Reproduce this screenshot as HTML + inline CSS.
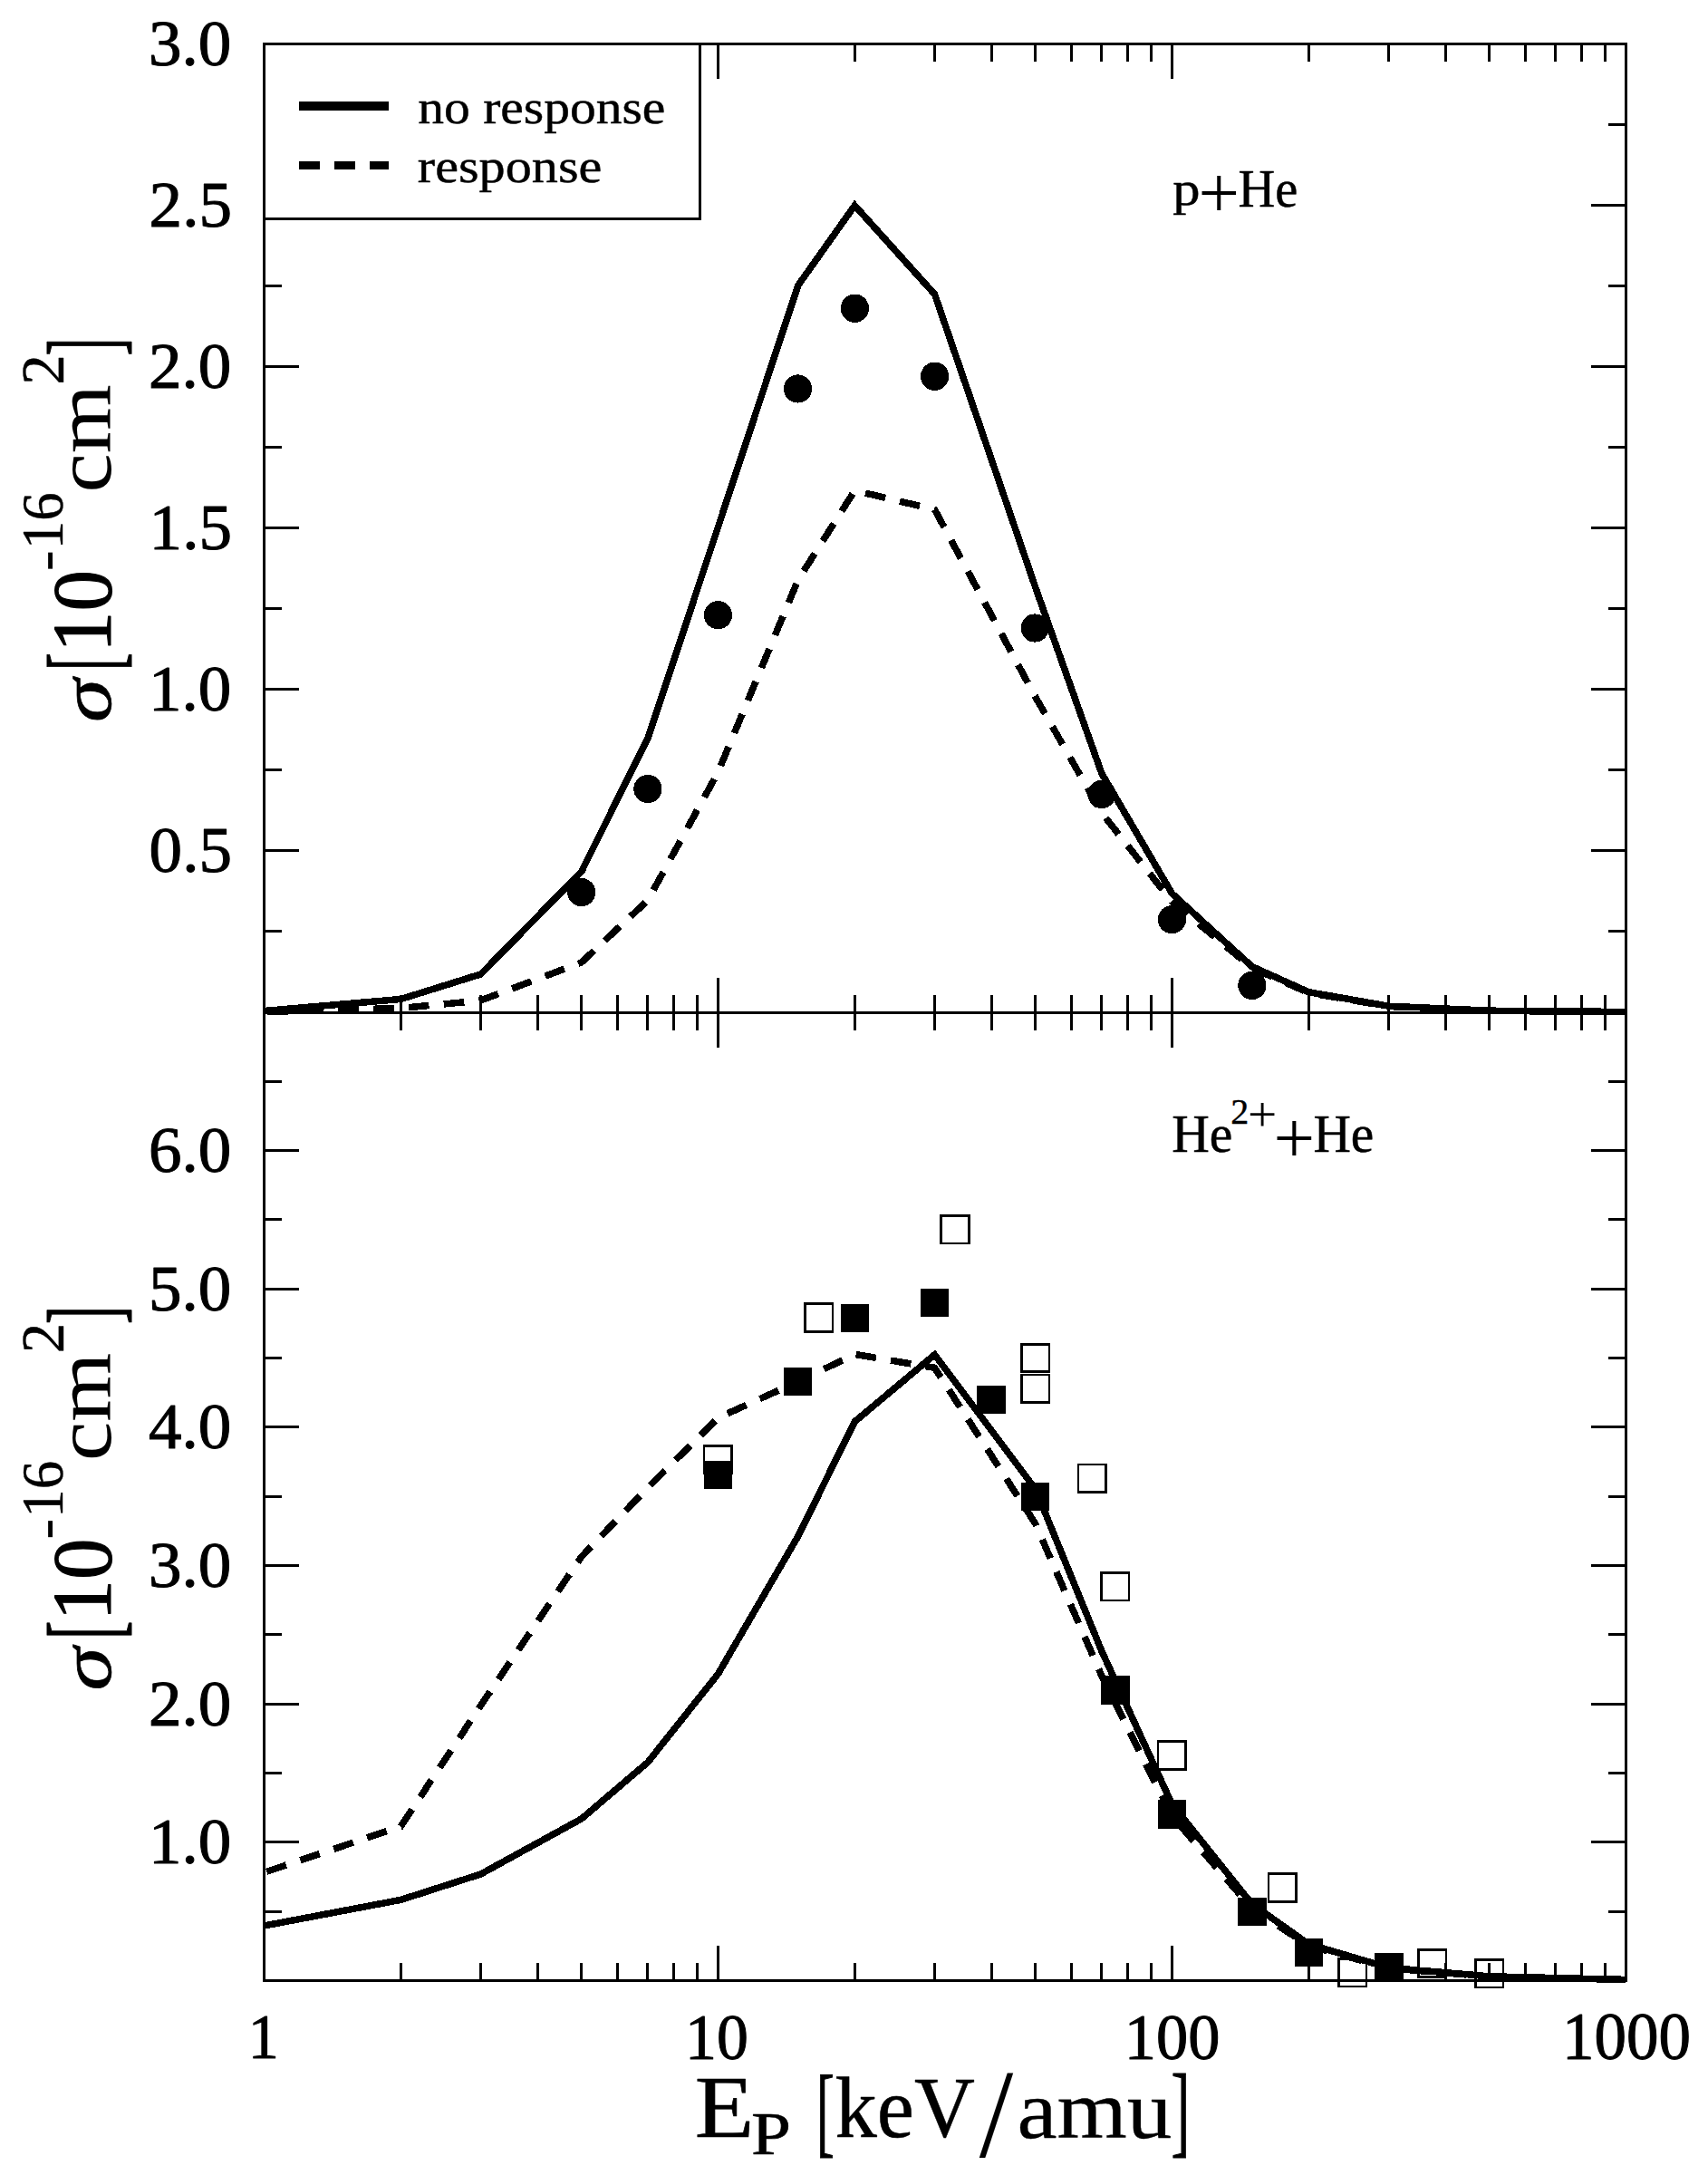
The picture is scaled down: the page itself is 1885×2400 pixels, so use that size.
<!DOCTYPE html>
<html lang="en"><head><meta charset="utf-8"><title>Cross sections</title>
<style>html,body{margin:0;padding:0;background:#fff}body{width:1885px;height:2400px;overflow:hidden}</style></head>
<body>
<svg width="1885" height="2400" viewBox="0 0 1885 2400" style="display:block">
<rect x="0" y="0" width="1885" height="2400" fill="#fff"/>
<g id="curves" shape-rendering="crispEdges">
<polyline points="291.5,1115.5 442.316,1102.5 530.538,1075 641.684,961.8 714.894,814.8 792.5,581.5 880.722,315 943.316,226.7 1031.538,324.7 1142.684,648 1215.894,853.5 1293.5,986 1381.722,1066.5 1444.316,1094.7 1532.538,1110.2 1643.684,1115.2 1794.5,1116.5" fill="none" stroke="#000" stroke-width="7.5" stroke-linejoin="miter" stroke-miterlimit="10"/>
<polyline points="291.5,1116.5 442.316,1112.5 530.538,1104 641.684,1062 714.894,993.5 792.5,852 880.722,640 943.316,541.3 1031.538,562.3 1142.684,769 1215.894,897 1293.5,995 1381.722,1068 1444.316,1095.5 1532.538,1110.5 1643.684,1115.5 1794.5,1116.5" fill="none" stroke="#000" stroke-width="7.5" stroke-linejoin="miter" stroke-miterlimit="10" stroke-dasharray="22.7 16.3" stroke-dashoffset="-3.5"/>
<polyline points="291.5,2125 442.316,2096.4 530.538,2068 641.684,2007 714.894,1944.6 792.5,1847 880.722,1695.2 943.316,1568.7 1031.538,1494.8 1142.684,1643 1215.894,1822 1293.5,1991 1381.722,2101 1444.316,2145.2 1532.538,2171.3 1643.684,2180.8 1794.5,2184.4" fill="none" stroke="#000" stroke-width="7.5" stroke-linejoin="miter" stroke-miterlimit="10"/>
<polyline points="291.5,2066.2 442.316,2015.4 530.538,1882 641.684,1717.8 714.894,1641.6 792.5,1564.5 880.722,1524.5 943.316,1494.4 1031.538,1509.3 1142.684,1681.3 1215.894,1849.3 1293.5,2004 1381.722,2105.9 1444.316,2147 1532.538,2171.8 1643.684,2181 1794.5,2184.5" fill="none" stroke="#000" stroke-width="7.5" stroke-linejoin="miter" stroke-miterlimit="10" stroke-dasharray="22.7 16.3" stroke-dashoffset="-3"/>
</g>
<g id="markers" shape-rendering="crispEdges">
<rect x="777.05" y="1595.35" width="30.5" height="30.5" fill="none" stroke="#000" stroke-width="2.6"/>
<rect x="888.65" y="1438.75" width="30.5" height="30.5" fill="none" stroke="#000" stroke-width="2.6"/>
<rect x="1038.75" y="1341.65" width="30.5" height="30.5" fill="none" stroke="#000" stroke-width="2.6"/>
<rect x="1127.35" y="1483.25" width="30.5" height="30.5" fill="none" stroke="#000" stroke-width="2.6"/>
<rect x="1127.35" y="1517.15" width="30.5" height="30.5" fill="none" stroke="#000" stroke-width="2.6"/>
<rect x="1190.05" y="1616.15" width="30.5" height="30.5" fill="none" stroke="#000" stroke-width="2.6"/>
<rect x="1215.65" y="1735.35" width="30.5" height="30.5" fill="none" stroke="#000" stroke-width="2.6"/>
<rect x="1278.15" y="1921.75" width="30.5" height="30.5" fill="none" stroke="#000" stroke-width="2.6"/>
<rect x="1400.15" y="2067.75" width="30.5" height="30.5" fill="none" stroke="#000" stroke-width="2.6"/>
<rect x="1477.65" y="2161.35" width="30.5" height="30.5" fill="none" stroke="#000" stroke-width="2.6"/>
<rect x="1565.65" y="2151.25" width="30.5" height="30.5" fill="none" stroke="#000" stroke-width="2.6"/>
<rect x="1628.55" y="2162.45" width="30.5" height="30.5" fill="none" stroke="#000" stroke-width="2.6"/>
<rect x="776.6" y="1611.5" width="31.4" height="31.4" fill="#000"/>
<rect x="864.9" y="1508.9" width="31.4" height="31.4" fill="#000"/>
<rect x="927.7" y="1438.6" width="31.4" height="31.4" fill="#000"/>
<rect x="1015.6" y="1421.8" width="31.4" height="31.4" fill="#000"/>
<rect x="1078.2" y="1528.7" width="31.4" height="31.4" fill="#000"/>
<rect x="1127" y="1635.6" width="31.4" height="31.4" fill="#000"/>
<rect x="1215.2" y="1849.2" width="31.4" height="31.4" fill="#000"/>
<rect x="1277.7" y="1986.2" width="31.4" height="31.4" fill="#000"/>
<rect x="1366.1" y="2093.5" width="31.4" height="31.4" fill="#000"/>
<rect x="1428.5" y="2138.9" width="31.4" height="31.4" fill="#000"/>
<rect x="1517.2" y="2154.5" width="31.4" height="31.4" fill="#000"/>
</g><g id="circles" shape-rendering="crispEdges">
<circle cx="641.7" cy="984.6" r="15.6" fill="#000"/>
<circle cx="714.9" cy="870.5" r="15.6" fill="#000"/>
<circle cx="792.5" cy="678.7" r="15.6" fill="#000"/>
<circle cx="880.5" cy="429" r="15.6" fill="#000"/>
<circle cx="943.4" cy="340.2" r="15.6" fill="#000"/>
<circle cx="1031.6" cy="415.2" r="15.6" fill="#000"/>
<circle cx="1142.2" cy="693" r="15.6" fill="#000"/>
<circle cx="1215.9" cy="876.4" r="15.6" fill="#000"/>
<circle cx="1293.4" cy="1014.6" r="15.6" fill="#000"/>
<circle cx="1381.9" cy="1087.4" r="15.6" fill="#000"/>
</g>
<g id="axes" shape-rendering="crispEdges"><rect x="291.5" y="48.5" width="1503.0" height="2137.0" fill="none" stroke="#000" stroke-width="3"/><line x1="291.5" y1="1117.0" x2="1794.5" y2="1117.0" stroke="#000" stroke-width="3"/><g stroke="#000" stroke-width="3"><line x1="442.316" y1="48.5" x2="442.316" y2="68"/><line x1="442.316" y1="1097.5" x2="442.316" y2="1136.5"/><line x1="442.316" y1="2166" x2="442.316" y2="2185.5"/><line x1="530.538" y1="48.5" x2="530.538" y2="68"/><line x1="530.538" y1="1097.5" x2="530.538" y2="1136.5"/><line x1="530.538" y1="2166" x2="530.538" y2="2185.5"/><line x1="593.132" y1="48.5" x2="593.132" y2="68"/><line x1="593.132" y1="1097.5" x2="593.132" y2="1136.5"/><line x1="593.132" y1="2166" x2="593.132" y2="2185.5"/><line x1="641.684" y1="48.5" x2="641.684" y2="68"/><line x1="641.684" y1="1097.5" x2="641.684" y2="1136.5"/><line x1="641.684" y1="2166" x2="641.684" y2="2185.5"/><line x1="681.354" y1="48.5" x2="681.354" y2="68"/><line x1="681.354" y1="1097.5" x2="681.354" y2="1136.5"/><line x1="681.354" y1="2166" x2="681.354" y2="2185.5"/><line x1="714.894" y1="48.5" x2="714.894" y2="68"/><line x1="714.894" y1="1097.5" x2="714.894" y2="1136.5"/><line x1="714.894" y1="2166" x2="714.894" y2="2185.5"/><line x1="743.948" y1="48.5" x2="743.948" y2="68"/><line x1="743.948" y1="1097.5" x2="743.948" y2="1136.5"/><line x1="743.948" y1="2166" x2="743.948" y2="2185.5"/><line x1="769.575" y1="48.5" x2="769.575" y2="68"/><line x1="769.575" y1="1097.5" x2="769.575" y2="1136.5"/><line x1="769.575" y1="2166" x2="769.575" y2="2185.5"/><line x1="792.5" y1="48.5" x2="792.5" y2="87"/><line x1="792.5" y1="1078.5" x2="792.5" y2="1155.5"/><line x1="792.5" y1="2147" x2="792.5" y2="2185.5"/><line x1="943.316" y1="48.5" x2="943.316" y2="68"/><line x1="943.316" y1="1097.5" x2="943.316" y2="1136.5"/><line x1="943.316" y1="2166" x2="943.316" y2="2185.5"/><line x1="1031.538" y1="48.5" x2="1031.538" y2="68"/><line x1="1031.538" y1="1097.5" x2="1031.538" y2="1136.5"/><line x1="1031.538" y1="2166" x2="1031.538" y2="2185.5"/><line x1="1094.132" y1="48.5" x2="1094.132" y2="68"/><line x1="1094.132" y1="1097.5" x2="1094.132" y2="1136.5"/><line x1="1094.132" y1="2166" x2="1094.132" y2="2185.5"/><line x1="1142.684" y1="48.5" x2="1142.684" y2="68"/><line x1="1142.684" y1="1097.5" x2="1142.684" y2="1136.5"/><line x1="1142.684" y1="2166" x2="1142.684" y2="2185.5"/><line x1="1182.354" y1="48.5" x2="1182.354" y2="68"/><line x1="1182.354" y1="1097.5" x2="1182.354" y2="1136.5"/><line x1="1182.354" y1="2166" x2="1182.354" y2="2185.5"/><line x1="1215.894" y1="48.5" x2="1215.894" y2="68"/><line x1="1215.894" y1="1097.5" x2="1215.894" y2="1136.5"/><line x1="1215.894" y1="2166" x2="1215.894" y2="2185.5"/><line x1="1244.948" y1="48.5" x2="1244.948" y2="68"/><line x1="1244.948" y1="1097.5" x2="1244.948" y2="1136.5"/><line x1="1244.948" y1="2166" x2="1244.948" y2="2185.5"/><line x1="1270.575" y1="48.5" x2="1270.575" y2="68"/><line x1="1270.575" y1="1097.5" x2="1270.575" y2="1136.5"/><line x1="1270.575" y1="2166" x2="1270.575" y2="2185.5"/><line x1="1293.5" y1="48.5" x2="1293.5" y2="87"/><line x1="1293.5" y1="1078.5" x2="1293.5" y2="1155.5"/><line x1="1293.5" y1="2147" x2="1293.5" y2="2185.5"/><line x1="1444.316" y1="48.5" x2="1444.316" y2="68"/><line x1="1444.316" y1="1097.5" x2="1444.316" y2="1136.5"/><line x1="1444.316" y1="2166" x2="1444.316" y2="2185.5"/><line x1="1532.538" y1="48.5" x2="1532.538" y2="68"/><line x1="1532.538" y1="1097.5" x2="1532.538" y2="1136.5"/><line x1="1532.538" y1="2166" x2="1532.538" y2="2185.5"/><line x1="1595.132" y1="48.5" x2="1595.132" y2="68"/><line x1="1595.132" y1="1097.5" x2="1595.132" y2="1136.5"/><line x1="1595.132" y1="2166" x2="1595.132" y2="2185.5"/><line x1="1643.684" y1="48.5" x2="1643.684" y2="68"/><line x1="1643.684" y1="1097.5" x2="1643.684" y2="1136.5"/><line x1="1643.684" y1="2166" x2="1643.684" y2="2185.5"/><line x1="1683.354" y1="48.5" x2="1683.354" y2="68"/><line x1="1683.354" y1="1097.5" x2="1683.354" y2="1136.5"/><line x1="1683.354" y1="2166" x2="1683.354" y2="2185.5"/><line x1="1716.894" y1="48.5" x2="1716.894" y2="68"/><line x1="1716.894" y1="1097.5" x2="1716.894" y2="1136.5"/><line x1="1716.894" y1="2166" x2="1716.894" y2="2185.5"/><line x1="1745.948" y1="48.5" x2="1745.948" y2="68"/><line x1="1745.948" y1="1097.5" x2="1745.948" y2="1136.5"/><line x1="1745.948" y1="2166" x2="1745.948" y2="2185.5"/><line x1="1771.575" y1="48.5" x2="1771.575" y2="68"/><line x1="1771.575" y1="1097.5" x2="1771.575" y2="1136.5"/><line x1="1771.575" y1="2166" x2="1771.575" y2="2185.5"/><line x1="291.5" y1="1027.958" x2="311" y2="1027.958"/><line x1="1775" y1="1027.958" x2="1794.5" y2="1027.958"/><line x1="291.5" y1="938.917" x2="330" y2="938.917"/><line x1="1756" y1="938.917" x2="1794.5" y2="938.917"/><line x1="291.5" y1="849.875" x2="311" y2="849.875"/><line x1="1775" y1="849.875" x2="1794.5" y2="849.875"/><line x1="291.5" y1="760.833" x2="330" y2="760.833"/><line x1="1756" y1="760.833" x2="1794.5" y2="760.833"/><line x1="291.5" y1="671.792" x2="311" y2="671.792"/><line x1="1775" y1="671.792" x2="1794.5" y2="671.792"/><line x1="291.5" y1="582.75" x2="330" y2="582.75"/><line x1="1756" y1="582.75" x2="1794.5" y2="582.75"/><line x1="291.5" y1="493.708" x2="311" y2="493.708"/><line x1="1775" y1="493.708" x2="1794.5" y2="493.708"/><line x1="291.5" y1="404.667" x2="330" y2="404.667"/><line x1="1756" y1="404.667" x2="1794.5" y2="404.667"/><line x1="291.5" y1="315.625" x2="311" y2="315.625"/><line x1="1775" y1="315.625" x2="1794.5" y2="315.625"/><line x1="291.5" y1="226.583" x2="330" y2="226.583"/><line x1="1756" y1="226.583" x2="1794.5" y2="226.583"/><line x1="291.5" y1="137.542" x2="311" y2="137.542"/><line x1="1775" y1="137.542" x2="1794.5" y2="137.542"/><line x1="291.5" y1="2109.179" x2="311" y2="2109.179"/><line x1="1775" y1="2109.179" x2="1794.5" y2="2109.179"/><line x1="291.5" y1="2032.857" x2="330" y2="2032.857"/><line x1="1756" y1="2032.857" x2="1794.5" y2="2032.857"/><line x1="291.5" y1="1956.536" x2="311" y2="1956.536"/><line x1="1775" y1="1956.536" x2="1794.5" y2="1956.536"/><line x1="291.5" y1="1880.214" x2="330" y2="1880.214"/><line x1="1756" y1="1880.214" x2="1794.5" y2="1880.214"/><line x1="291.5" y1="1803.893" x2="311" y2="1803.893"/><line x1="1775" y1="1803.893" x2="1794.5" y2="1803.893"/><line x1="291.5" y1="1727.571" x2="330" y2="1727.571"/><line x1="1756" y1="1727.571" x2="1794.5" y2="1727.571"/><line x1="291.5" y1="1651.25" x2="311" y2="1651.25"/><line x1="1775" y1="1651.25" x2="1794.5" y2="1651.25"/><line x1="291.5" y1="1574.929" x2="330" y2="1574.929"/><line x1="1756" y1="1574.929" x2="1794.5" y2="1574.929"/><line x1="291.5" y1="1498.607" x2="311" y2="1498.607"/><line x1="1775" y1="1498.607" x2="1794.5" y2="1498.607"/><line x1="291.5" y1="1422.286" x2="330" y2="1422.286"/><line x1="1756" y1="1422.286" x2="1794.5" y2="1422.286"/><line x1="291.5" y1="1345.964" x2="311" y2="1345.964"/><line x1="1775" y1="1345.964" x2="1794.5" y2="1345.964"/><line x1="291.5" y1="1269.643" x2="330" y2="1269.643"/><line x1="1756" y1="1269.643" x2="1794.5" y2="1269.643"/><line x1="291.5" y1="1193.321" x2="311" y2="1193.321"/><line x1="1775" y1="1193.321" x2="1794.5" y2="1193.321"/></g><rect x="291.5" y="48.5" width="481.29999999999995" height="193.1" fill="#fff" stroke="#000" stroke-width="3"/><line x1="330" y1="117" x2="429" y2="117" stroke="#000" stroke-width="10"/><line x1="330" y1="182.5" x2="429" y2="182.5" stroke="#000" stroke-width="9" stroke-dasharray="22.7 16.3"/></g>
<g id="text" font-family="'Liberation Serif', 'DejaVu Serif', serif" fill="#000" stroke="#000" stroke-linejoin="round">
<g id="xticks">
<text transform="matrix(0.973 0 0 1.006 273.848 2270.797)" font-size="70" stroke-width="1.0">1</text>
<text transform="matrix(0.997 0 0 1.042 756.118 2271.958)" font-size="70" stroke-width="1.0">10</text>
<text transform="matrix(1.005 0 0 1.042 1240.872 2271.958)" font-size="70" stroke-width="1.0">100</text>
<text transform="matrix(1.014 0 0 1.042 1724.025 2271.958)" font-size="70" stroke-width="1.0">1000</text>
</g>
<g id="legend">
<text transform="matrix(1.009 0 0 0.942 461.291 136.128)" font-size="57" stroke-width="0.5">no response</text>
<text transform="matrix(1.021 0 0 0.944 460.779 201.196)" font-size="57" stroke-width="0.5">response</text>
</g>
<g id="label-top">
<text transform="matrix(1.062 0 0 0.911 1294.269 226.408)" font-size="57" stroke-width="0.5">p</text>
<text transform="matrix(1.223 0 0 1.21 1322.42 239.564)" font-size="66" stroke-width="0">+</text>
<text transform="matrix(0.99 0 0 1.032 1366.514 227.684)" font-size="57" stroke-width="0.5">He</text>
</g>
<g id="label-bottom">
<text transform="matrix(1.01 0 0 1.026 1293.286 1270.687)" font-size="57" stroke-width="0.5">He</text>
<text transform="matrix(1 0 0 1.015 1358.3 1239.7)" font-size="40" stroke-width="0.4">2</text>
<text transform="matrix(1.243 0 0 1.209 1376.893 1248.342)" font-size="46" stroke-width="0">+</text>
<text transform="matrix(1.226 0 0 1.21 1405.408 1282.764)" font-size="66" stroke-width="0">+</text>
<text transform="matrix(1.006 0 0 1.026 1449.39 1270.687)" font-size="57" stroke-width="0.5">He</text>
</g>
<g id="xtitle">
<text transform="matrix(1.141 0 0 1.034 766.849 2357.8)" font-size="94" stroke-width="0.6">E</text>
<text transform="matrix(1.162 0 0 1 829.057 2376.8)" font-size="68" stroke-width="0.6">P</text>
<text transform="matrix(0.553 0 0 1.007 900.753 2365.602)" font-size="110" stroke-width="1.0">[</text>
<text transform="matrix(0.986 0 0 1.003 921.521 2358.496)" font-size="94" stroke-width="0.5">keV</text>
<text transform="matrix(1.226 0 0 1.269 1080.8 2379.831)" font-size="110" stroke-width="0">/</text>
<text transform="matrix(1.057 0 0 0.963 1122.429 2358.837)" font-size="94" stroke-width="0.3">amu</text>
<text transform="matrix(0.569 0 0 1.014 1292.61 2365.888)" font-size="110" stroke-width="1.0">]</text>
</g>
<g id="ytitle-top">
<text transform="rotate(-90) matrix(1.054 0 0 0.863 -797.036 122.237)" font-size="92" font-style="italic" stroke-width="0.8">σ</text>
<text transform="rotate(-90) matrix(0.553 0 0 1.011 -740.147 129.837)" font-size="110" stroke-width="1.0">[</text>
<text transform="rotate(-90) matrix(0.981 0 0 1.011 -720.055 122.284)" font-size="93" stroke-width="1.0">10</text>
<text transform="rotate(-90) matrix(1.053 0 0 1 -630.332 71)" font-size="66" stroke-width="0">-</text>
<text transform="rotate(-90) matrix(0.967 0 0 1.011 -606.22 69.189)" font-size="65" stroke-width="0.4">16</text>
<text transform="rotate(-90) matrix(1.027 0 0 0.945 -543.495 121.855)" font-size="95" stroke-width="0">cm</text>
<text transform="rotate(-90) matrix(1.03 0 0 1.035 -424.675 70.2)" font-size="65" stroke-width="0.4">2</text>
<text transform="rotate(-90) matrix(0.549 0 0 1.011 -392.822 129.837)" font-size="110" stroke-width="1.0">]</text>
</g>
<g id="ytitle-bottom">
<text transform="rotate(-90) matrix(1.054 0 0 0.863 -1865.536 122.237)" font-size="92" font-style="italic" stroke-width="0.8">σ</text>
<text transform="rotate(-90) matrix(0.553 0 0 1.011 -1808.647 129.837)" font-size="110" stroke-width="1.0">[</text>
<text transform="rotate(-90) matrix(0.981 0 0 1.011 -1788.555 122.284)" font-size="93" stroke-width="1.0">10</text>
<text transform="rotate(-90) matrix(1.053 0 0 1 -1698.832 71)" font-size="66" stroke-width="0">-</text>
<text transform="rotate(-90) matrix(0.967 0 0 1.011 -1674.72 69.189)" font-size="65" stroke-width="0.4">16</text>
<text transform="rotate(-90) matrix(1.027 0 0 0.945 -1611.995 121.855)" font-size="95" stroke-width="0">cm</text>
<text transform="rotate(-90) matrix(1.03 0 0 1.035 -1493.175 70.2)" font-size="65" stroke-width="0.4">2</text>
<text transform="rotate(-90) matrix(0.549 0 0 1.011 -1461.322 129.837)" font-size="110" stroke-width="1.0">]</text>
</g>
<g id="yticks">
<text transform="matrix(1.044 0 0 1.033 164.069 72.001)" font-size="70" stroke-width="1">3.0</text>
<text transform="matrix(1.044 0 0 1.033 164.591 250.084)" font-size="70" stroke-width="1">2.5</text>
<text transform="matrix(1.044 0 0 1.033 164.069 428.167)" font-size="70" stroke-width="1">2.0</text>
<text transform="matrix(1.044 0 0 1.033 164.591 605.734)" font-size="70" stroke-width="1">1.5</text>
<text transform="matrix(1.044 0 0 1.033 164.069 784.334)" font-size="70" stroke-width="1">1.0</text>
<text transform="matrix(1.044 0 0 1.033 164.591 962.417)" font-size="70" stroke-width="1">0.5</text>
<text transform="matrix(1.044 0 0 1.033 164.069 1293.143)" font-size="70" stroke-width="1">6.0</text>
<text transform="matrix(1.044 0 0 1.033 164.069 1445.786)" font-size="70" stroke-width="1">5.0</text>
<text transform="matrix(1.044 0 0 1.033 164.069 1598.429)" font-size="70" stroke-width="1">4.0</text>
<text transform="matrix(1.044 0 0 1.033 164.069 1751.072)" font-size="70" stroke-width="1">3.0</text>
<text transform="matrix(1.044 0 0 1.033 164.069 1903.715)" font-size="70" stroke-width="1">2.0</text>
<text transform="matrix(1.044 0 0 1.033 164.069 2056.358)" font-size="70" stroke-width="1">1.0</text>
</g>
</g>
</svg>
</body></html>
